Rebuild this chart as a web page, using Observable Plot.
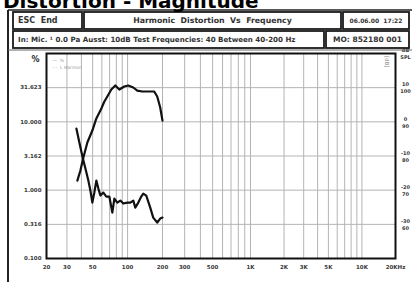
<!DOCTYPE html>
<html>
<head>
<meta charset="utf-8">
<script src="https://cdn.jsdelivr.net/npm/d3@7"></script>
<script src="https://cdn.jsdelivr.net/npm/@observablehq/plot@0.6"></script>
<style>
  html, body { margin: 0; padding: 0; background: #fff; }
  #chart { width: 412px; height: 282px; overflow: hidden; }
</style>
</head>
<body>
<div id="chart"></div>
<script>
// ---- data ----
const freqs2nd = [36.9, 39.2, 41.6, 45.0, 49.7, 53.8, 58.3, 63.1, 66.9, 72.4, 78.4, 84.9, 93.7, 101.4, 112.0, 121.2, 133.8, 156.8, 169.7, 180.1, 191.1, 200];
const dist2nd  = [1.38, 1.94, 3.0, 4.98, 7.46, 11.2, 14.6, 19.8, 23.5, 29.7, 34.0, 29.7, 32.9, 34.0, 31.8, 28.7, 27.8, 27.8, 27.8, 23.5, 16.2, 10.4];
const freqs3rd = [36.2, 38.4, 40.8, 43.3, 45.9, 47.8, 49.7, 51.7, 53.8, 56.0, 58.3, 61.8, 65.6, 69.6, 73.9, 76.9, 81.6, 86.6, 91.9, 99.4, 105.5, 112.0, 116.5, 123.7, 131.2, 136.5, 144.9, 156.8, 166.4, 180.1, 191.1, 200];
const dist3rd  = [7.98, 4.98, 3.10, 2.07, 1.38, 0.987, 0.658, 0.923, 1.38, 1.055, 0.834, 0.923, 0.806, 0.806, 0.470, 0.754, 0.658, 0.705, 0.637, 0.658, 0.658, 0.705, 0.556, 0.658, 0.806, 0.891, 0.834, 0.556, 0.397, 0.336, 0.384, 0.397];

const xTicks  = [20, 30, 50, 100, 200, 300, 500, 1000, 2000, 3000, 5000, 10000, 20000];
const xLabels = ["20", "30", "50", "100", "200", "300", "500", "1K", "2K", "3K", "5K", "10K", "20KHz"];
const xGrid   = [30, 40, 50, 60, 70, 80, 90, 100, 200, 300, 400, 500, 600, 700, 800, 900, 1000, 2000, 3000, 4000, 5000, 6000, 7000, 8000, 9000, 10000];
const yTicks  = [0.1, 0.316, 1, 3.162, 10, 31.623];
const yLabels = ["0.100", "0.316", "1.000", "3.162", "10.000", "31.623"];
const rTicks  = [100, 31.623, 10, 3.162, 1, 0.316];
const rLabels = ["dB\nSPL", "10\n100", "0\n90", "-10\n80", "-20\n70", "-30\n60"];
const legendLines = ["—  %", "- -  L Harmon"];

const series2 = freqs2nd.map((f, i) => ({f, v: dist2nd[i]}));
const series3 = freqs3rd.map((f, i) => ({f, v: dist3rd[i]}));

const font = "DejaVu Sans, Verdana, sans-serif";
const lab = "#3a3a3a";

const plot = Plot.plot({
  width: 412, height: 282,
  marginLeft: 46, marginRight: 17, marginTop: 53, marginBottom: 24,
  // the analyser's frequency axis is slightly stretched above 200 Hz: piecewise log scale
  x: {type: "log", domain: [20, 200, 1000, 20000], range: [46, 162, 250, 395], axis: null},
  y: {type: "log", domain: [0.1, 100], axis: null},
  style: {fontFamily: font, background: "#fff", overflow: "visible"},
  marks: [
    Plot.ruleX(xGrid, {stroke: "#b4b4b4", strokeWidth: 1}),
    Plot.ruleY(yTicks, {stroke: "#b4b4b4", strokeWidth: 1}),
    Plot.text(xTicks, {x: d => d, text: (d, i) => xLabels[i], frameAnchor: "bottom", dy: 10, fontSize: 5.5, fontWeight: "bold", fill: lab, textAnchor: "middle"}),
    Plot.text(yTicks, {y: d => d, text: (d, i) => yLabels[i], frameAnchor: "left", dx: -5, fontSize: 5.5, fontWeight: "bold", fill: lab, textAnchor: "end"}),
    Plot.text(rTicks, {y: d => d, text: (d, i) => rLabels[i], frameAnchor: "right", dx: 10, fontSize: 5, fontWeight: "bold", fill: lab, textAnchor: "middle", lineHeight: 1.4}),
    Plot.text(["%"], {frameAnchor: "top-left", dx: -15, dy: 3, fontSize: 8, fontWeight: "bold", fill: "#222"}),
    Plot.text([legendLines.join("\n")], {frameAnchor: "top-left", dx: 6, dy: 3, fontSize: 4.5, fill: "#999", textAnchor: "start", lineAnchor: "top", lineHeight: 1.6}),
    Plot.text(["[dB]"], {frameAnchor: "top-right", dx: -7, dy: 14, fontSize: 5.5, fill: "#888", rotate: 90}),
    Plot.line(series2, {x: "f", y: "v", stroke: "#111", strokeWidth: 2.2, curve: "linear"}),
    Plot.line(series3, {x: "f", y: "v", stroke: "#111", strokeWidth: 2.2, curve: "linear"}),
    Plot.frame({stroke: "#111", strokeWidth: 2})
  ]
});

document.getElementById("chart").appendChild(plot);

// ---- header decoration ----
const svg = d3.select(plot);
const g = svg.append("g").attr("font-family", font).attr("text-anchor", "start");
// outer panel lines
g.append("line").attr("x1", 8).attr("x2", 8).attr("y1", 10).attr("y2", 282).attr("stroke", "#222").attr("stroke-width", 2);
g.append("line").attr("x1", 8).attr("x2", 412).attr("y1", 10).attr("y2", 10).attr("stroke", "#222").attr("stroke-width", 1.5);
g.append("line").attr("x1", 8).attr("x2", 412).attr("y1", 50).attr("y2", 50).attr("stroke", "#666").attr("stroke-width", 1);
const cells = [
  {x: 13, y: 12, w: 69, h: 17, t: "ESC  End", anchor: "start", fs: 8},
  {x: 84, y: 12, w: 257, h: 17, t: "Harmonic  Distortion  Vs  Frequency", anchor: "middle", fs: 7.8},
  {x: 343, y: 12, w: 66, h: 17, t: "06.06.00  17:22", anchor: "middle", fs: 6},
  {x: 13, y: 31, w: 311, h: 17, t: "In: Mic. ¹ 0.0 Pa Ausst: 10dB Test Frequencies: 40 Between 40-200 Hz", anchor: "start", fs: 7.1},
  {x: 326, y: 31, w: 83, h: 17, t: "MO: 852180 001", anchor: "middle", fs: 7.5}
];
for (const c of cells) {
  g.append("rect").attr("x", c.x).attr("y", c.y).attr("width", c.w).attr("height", c.h)
    .attr("fill", "#fff").attr("stroke", "#1a1a1a").attr("stroke-width", 1.8);
  g.append("text").attr("x", c.anchor === "start" ? c.x + 5 : c.x + c.w / 2).attr("y", c.y + c.h / 2)
    .attr("dy", "0.35em").attr("text-anchor", c.anchor).attr("font-size", c.fs)
    .attr("font-weight", "bold").attr("fill", "#333").text(c.t);
}
g.append("text").attr("x", 3).attr("y", 8).attr("text-anchor", "start").attr("font-size", 20)
  .attr("font-weight", "bold").attr("fill", "#000").text("Distortion - Magnitude");
</script>
</body>
</html>
